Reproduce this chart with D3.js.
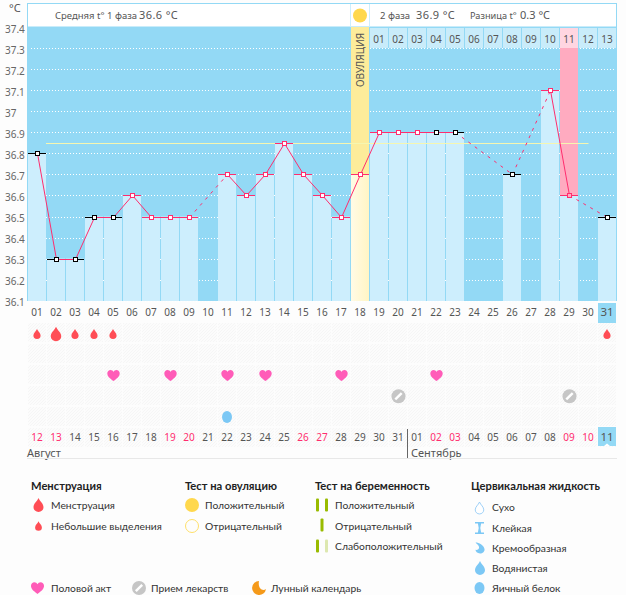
<!DOCTYPE html>
<html>
<head>
<meta charset="utf-8">
<style>
  html, body { margin: 0; padding: 0; background: #fdfdfd; }
  svg { display: block; }
  .chart-text { font-family: "Noto Sans", sans-serif; fill: #555; }
  .legend-text { font-family: Lato, sans-serif; font-size: 10.3px; fill: #333; }
  .legend-head { font-family: Lato, sans-serif; font-size: 11.2px; font-weight: 700; fill: #222; }
</style>
</head>
<body>
<div id="chart"></div>
<script src="https://cdnjs.cloudflare.com/ajax/libs/d3/7.8.5/d3.min.js"></script>
<script>
// values
var cycleDays = d3.range(1, 32);
var temps = [36.8, 36.3, 36.3, 36.5, 36.5, 36.6, 36.5, 36.5, 36.5, null,
             36.7, 36.6, 36.7, 36.85, 36.7, 36.6, 36.5, 36.7, 36.9, 36.9,
             36.9, 36.9, 36.9, null, null, 36.7, null, 37.1, 36.6, null, 36.5];
var blackDays = [1, 2, 3, 4, 5, 22, 23, 26, 31];
var tempTicks = [37.4, 37.3, 37.2, 37.1, 37, 36.9, 36.8, 36.7, 36.6, 36.5, 36.4, 36.3, 36.2, 36.1];
var coverLine = 36.85;
var ovulationDay = 18;
var pinkDay = 29;
var phaseLabels = ["01", "02", "03", "04", "05", "06", "07", "08", "09", "10", "11", "12", "13"];
var phaseStart = 19;
var pinkPhaseLabel = "11";
var dayLabels = ["01", "02", "03", "04", "05", "06", "07", "08", "09", "10", "11", "12", "13", "14", "15", "16",
                 "17", "18", "19", "20", "21", "22", "23", "24", "25", "26", "27", "28", "29", "30", "31"];
var dateLabels = ["12", "13", "14", "15", "16", "17", "18", "19", "20", "21", "22", "23", "24", "25", "26", "27",
                  "28", "29", "30", "31", "01", "02", "03", "04", "05", "06", "07", "08", "09", "10", "11"];
var weekendDays = [1, 2, 8, 9, 15, 16, 22, 23, 29, 30];
var smallDrops = [1, 3, 4, 5, 31];
var bigDrops = [2];
var heartDays = [5, 8, 11, 13, 17, 22];
var pillDays = [20, 29];
var eggDays = [11];
var rowNames = ["drops", "tests", "hearts", "pills", "fluid"];

var width = 626;
var height = 595;
var pink = "#ff2d6e";
var blue = "#93d9f5";
var pale = "#cdeefd";

var x = d3.scaleBand().domain(cycleDays).range([27, 616]);
var y = d3.scaleLinear().domain([36.1, 37.4]).range([300.6, 27.3]);
var rowY = d3.scalePoint().domain(rowNames).range([334, 417]);
var cx = function(d) { return x(d) + 10.5; };
var isBlack = function(d) { return blackDays.indexOf(d) >= 0; };

var svg = d3.select("#chart").append("svg")
    .attr("width", width)
    .attr("height", height);

var defs = svg.append("defs");
var hatch = defs.append("pattern").attr("id", "hatch")
    .attr("width", 3).attr("height", 3)
    .attr("patternUnits", "userSpaceOnUse");
hatch.append("rect").attr("width", 3).attr("height", 3).attr("fill", "#fcfcfc");
hatch.append("path").attr("d", "M0,3L3,0").attr("stroke", "#f6f6f6").attr("stroke-width", 1);
var ovGrad = defs.append("linearGradient").attr("id", "ovgrad");
ovGrad.append("stop").attr("offset", "0%").attr("stop-color", "#fffbe6");
ovGrad.append("stop").attr("offset", "100%").attr("stop-color", "#fff5c4");

// icons, centred on 0,0
var dropPath = "M0,-7C1.5,-3.5 5,-1.5 5,2.2A5,4.8 0 0 1 -5,2.2C-5,-1.5 -1.5,-3.5 0,-7Z";
var heartPath = "M0,5.6C-2,3.8 -6.2,1.6 -6.2,-2C-6.2,-4.2 -4.6,-5.4 -3,-5.4C-1.6,-5.4 -0.6,-4.6 0,-3.6C0.6,-4.6 1.6,-5.4 3,-5.4C4.6,-5.4 6.2,-4.2 6.2,-2C6.2,1.6 2,3.8 0,5.6Z";
var moonPath = "M0,-7A7,7 0 1 0 7,1C4,3.5 -1.5,1 0,-7Z";
var hourPath = "M-4.5,-6H4.5V-4.6H1.6L0.8,0L1.6,4.6H4.5V6H-4.5V4.6H-1.6L-0.8,0L-1.6,-4.6H-4.5Z";
var creamPath = "M-5,-6C-1,-6 4,-3 5,1C5.5,4 3,6 0,6C-3,6 -5,4 -5,2C-3,2.4 -1,1.4 -1,-0.5C-1,-2.8 -3.5,-4 -5,-6Z";

function drawPill(g, px, py) {
  g.append("circle").attr("cx", px).attr("cy", py).attr("r", 7).attr("fill", "#c6c6c6");
  g.append("line").attr("x1", px - 3.2).attr("y1", py + 3.2)
      .attr("x2", px + 3.2).attr("y2", py - 3.2)
      .attr("stroke", "#fff").attr("stroke-width", 2.4);
}
function drawIcon(g, path, px, py, k, fill) {
  return g.append("path").attr("d", path)
      .attr("transform", "translate(" + px + "," + py + ") scale(" + k + ")")
      .attr("fill", fill);
}

// plot background and white dotted grid
svg.append("rect").attr("x", 27).attr("y", 27).attr("width", 590).attr("height", 274).attr("fill", blue);

svg.append("g").selectAll("line")
    .data(tempTicks.slice(1))
  .enter().append("line")
    .attr("x1", 31).attr("x2", 616)
    .attr("y1", function(d) { return Math.round(y(d)) + 0.5; })
    .attr("y2", function(d) { return Math.round(y(d)) + 0.5; })
    .attr("stroke", "#fff")
    .attr("stroke-dasharray", "1 2");

// header strip
svg.append("rect").attr("x", 27.5).attr("y", 3.5).attr("width", 589).attr("height", 23.5)
    .attr("fill", "#fff").attr("stroke", blue);
svg.append("g").selectAll("line")
    .data([350.5, 369.5])
  .enter().append("line")
    .attr("x1", function(d) { return d; }).attr("x2", function(d) { return d; })
    .attr("y1", 4).attr("y2", 27)
    .attr("stroke", "#cdeefd");

// ovulation and pink columns, full height
svg.append("rect").attr("x", x(ovulationDay) + 1).attr("y", 27).attr("width", 18).attr("height", 274).attr("fill", "#fdec9a");
svg.append("rect").attr("x", x(pinkDay) + 1).attr("y", 48).attr("width", 18).attr("height", 253).attr("fill", "#ffabc0");

// bars
svg.append("g").selectAll("rect")
    .data(cycleDays.filter(function(d) { return temps[d - 1] !== null; }))
  .enter().append("rect")
    .attr("x", function(d) { return x(d) + 1; })
    .attr("y", function(d) { return y(temps[d - 1]); })
    .attr("width", 18)
    .attr("height", function(d) { return 301 - y(temps[d - 1]); })
    .attr("fill", function(d) { return d === ovulationDay ? "url(#ovgrad)" : pale; });

// second phase day cells
svg.append("g").selectAll("rect")
    .data(phaseLabels)
  .enter().append("rect")
    .attr("x", function(d, i) { return x(phaseStart + i) + 1; })
    .attr("y", 28)
    .attr("width", 18)
    .attr("height", 20)
    .attr("fill", function(d) { return d === pinkPhaseLabel ? "#ffd6e1" : "#c9ecfa"; });
svg.append("g").attr("class", "chart-text").style("font-size", "10px").selectAll("text")
    .data(phaseLabels)
  .enter().append("text")
    .attr("x", function(d, i) { return x(phaseStart + i) + 10; })
    .attr("y", 43)
    .attr("text-anchor", "middle")
    .text(function(d) { return d; });

svg.append("text").attr("class", "chart-text")
    .attr("transform", "translate(364," + 87 + ") rotate(-90)")
    .style("font-size", "10px")
    .text("ОВУЛЯЦИЯ");

// cover line
svg.append("line")
    .attr("x1", x(2)).attr("x2", cx(30))
    .attr("y1", Math.round(y(coverLine)) + 0.5).attr("y2", Math.round(y(coverLine)) + 0.5)
    .attr("stroke", "#f6f6b0");

// day ticks
var pointDays = cycleDays.filter(function(d) { return temps[d - 1] !== null; });
svg.append("g").selectAll("line")
    .data(pointDays)
  .enter().append("line")
    .attr("x1", function(d) { return x(d) + 1; })
    .attr("x2", function(d) { return x(d) + 19; })
    .attr("y1", function(d) { return Math.round(y(temps[d - 1])) + 0.5; })
    .attr("y2", function(d) { return Math.round(y(temps[d - 1])) + 0.5; })
    .attr("stroke", function(d) { return isBlack(d) ? "#000" : pink; });

// temperature line, dashed over missing days
var segments = d3.pairs(pointDays);
svg.append("g").selectAll("line")
    .data(segments)
  .enter().append("line")
    .attr("x1", function(d) { return cx(d[0]); })
    .attr("y1", function(d) { return Math.round(y(temps[d[0] - 1])) + 0.5; })
    .attr("x2", function(d) { return cx(d[1]); })
    .attr("y2", function(d) { return Math.round(y(temps[d[1] - 1])) + 0.5; })
    .attr("stroke", pink)
    .attr("stroke-width", 1)
    .attr("stroke-dasharray", function(d) { return d[1] - d[0] > 1 ? "3 5" : null; });

svg.append("g").selectAll("rect")
    .data(pointDays)
  .enter().append("rect")
    .attr("x", function(d) { return cx(d) - 2; })
    .attr("y", function(d) { return Math.round(y(temps[d - 1])) - 1.5; })
    .attr("width", 4)
    .attr("height", 4)
    .attr("fill", function(d) { return d === pinkDay ? "#ffabc0" : "#fff"; })
    .attr("stroke", function(d) { return isBlack(d) ? "#000" : pink; });

// temperature axis
var yAxis = svg.append("g").attr("class", "chart-text")
    .attr("transform", "translate(5,2)")
    .call(d3.axisLeft(y).tickValues(tempTicks).tickSize(0).tickFormat(function(d) { return String(d); }));
yAxis.select(".domain").remove();
yAxis.selectAll("text")
    .attr("x", 0)
    .attr("text-anchor", "start")
    .style("font-family", "'Noto Sans', sans-serif")
    .style("font-size", "10px")
    .style("fill", "#666");
svg.append("text").attr("class", "chart-text").attr("x", 9).attr("y", 12).style("font-size", "11px").text("°C");

// header texts
var head = svg.append("g").attr("class", "chart-text");
head.append("text").attr("x", 55).attr("y", 19).style("font-size", "9.5px").text("Средняя t° 1 фаза");
head.append("text").attr("x", 139).attr("y", 19).style("font-size", "11px").style("letter-spacing", "0.4px").text("36.6 °C");
head.append("text").attr("x", 380).attr("y", 19).style("font-size", "9.5px").text("2 фаза");
head.append("text").attr("x", 416).attr("y", 19).style("font-size", "11px").style("letter-spacing", "0.4px").text("36.9 °C");
head.append("text").attr("x", 470).attr("y", 19).style("font-size", "9.2px").text("Разница t°");
head.append("text").attr("x", 520).attr("y", 19).style("font-size", "11px").text("0.3 °C");
svg.append("circle").attr("cx", 360).attr("cy", 15.5).attr("r", 7).attr("fill", "#ffd84d");

// hatched observation rows
var cells = [];
d3.range(6).forEach(function(r) {
  cycleDays.forEach(function(d) { cells.push({row: r, day: d}); });
});
svg.append("g").selectAll("rect")
    .data(cells)
  .enter().append("rect")
    .attr("x", function(d) { return x(d.day) + 1; })
    .attr("y", function(d) { return 323 + d.row * 21; })
    .attr("width", 18)
    .attr("height", 19)
    .attr("fill", "url(#hatch)");

// highlighted current day
svg.append("rect").attr("x", x(31) + 1).attr("y", 303).attr("width", 18).attr("height", 20).attr("fill", blue);
svg.append("rect").attr("x", x(31) + 1).attr("y", 427).attr("width", 18).attr("height", 19).attr("fill", blue);
svg.append("path").attr("d", "M607,443.5l3,2.5h-6z").attr("fill", "#fff");

// day and date labels
svg.append("g").attr("class", "chart-text").style("font-size", "10px").selectAll("text")
    .data(dayLabels)
  .enter().append("text")
    .attr("x", function(d, i) { return x(i + 1) + 10; })
    .attr("y", 316)
    .attr("text-anchor", "middle")
    .style("font-size", function(d, i) { return i === 30 ? "11.5px" : null; })
    .text(function(d) { return d; });
svg.append("g").attr("class", "chart-text").style("font-size", "10px").selectAll("text")
    .data(dateLabels)
  .enter().append("text")
    .attr("x", function(d, i) { return x(i + 1) + 10; })
    .attr("y", 441)
    .attr("text-anchor", "middle")
    .style("fill", function(d, i) { return weekendDays.indexOf(i + 1) >= 0 ? pink : null; })
    .style("font-size", function(d, i) { return i === 30 ? "11.5px" : null; })
    .text(function(d) { return d; });

// markers in the rows
var marks = svg.append("g");
smallDrops.forEach(function(d) { drawIcon(marks, dropPath, cx(d) - 0.5, rowY("drops"), 0.72, "#ff4d55"); });
bigDrops.forEach(function(d) { drawIcon(marks, dropPath, cx(d) - 0.5, rowY("drops"), 1.05, "#ff4d55"); });
heartDays.forEach(function(d) { drawIcon(marks, heartPath, cx(d), rowY("hearts"), 1, "#ff5cb8"); });
pillDays.forEach(function(d) { drawPill(marks, cx(d), rowY("pills")); });
eggDays.forEach(function(d) {
  marks.append("ellipse").attr("cx", cx(d) - 0.5).attr("cy", rowY("fluid")).attr("rx", 5).attr("ry", 6).attr("fill", "#7cc8f5");
});

// months
svg.append("text").attr("class", "chart-text").attr("x", 27).attr("y", 457).style("font-size", "11px").text("Август");
svg.append("text").attr("class", "chart-text").attr("x", 411).attr("y", 457).style("font-size", "11px").text("Сентябрь");
svg.append("line").attr("x1", 407.5).attr("x2", 407.5).attr("y1", 429).attr("y2", 458).attr("stroke", "#666");
svg.append("line").attr("x1", 27).attr("x2", 617).attr("y1", 458.5).attr("y2", 458.5).attr("stroke", "#e8e8e8");

// legend
var legend = svg.append("g");
function head_(label, px) {
  legend.append("text").attr("class", "legend-head").attr("x", px).attr("y", 490).text(label);
}
function item(label, px, py) {
  legend.append("text").attr("class", "legend-text").attr("x", px).attr("y", py + 4).text(label);
}
head_("Менструация", 31);
head_("Тест на овуляцию", 185);
head_("Тест на беременность", 315);
head_("Цервикальная жидкость", 471);

drawIcon(legend, dropPath, 38.5, 505, 1, "#ff4d55");
item("Менструация", 51, 505);
drawIcon(legend, dropPath, 38.5, 526, 0.68, "#ff4d55");
item("Небольшие выделения", 51, 526);

legend.append("circle").attr("cx", 192).attr("cy", 505).attr("r", 7).attr("fill", "#ffd84d");
item("Положительный", 205, 505);
legend.append("circle").attr("cx", 192).attr("cy", 526).attr("r", 6.5).attr("fill", "none").attr("stroke", "#ffe06a");
item("Отрицательный", 205, 526);

function testBar(px, py, fill) {
  legend.append("rect").attr("x", px - 1.5).attr("y", py - 6.5).attr("width", 3).attr("height", 13).attr("rx", 1).attr("fill", fill);
}
testBar(317.5, 505, "#99bb00");
testBar(326.5, 505, "#99bb00");
item("Положительный", 335, 505);
testBar(322, 525, "#99bb00");
item("Отрицательный", 335, 526);
testBar(317.5, 546, "#99bb00");
testBar(326.5, 546, "#dde8b0");
item("Слабоположительный", 335, 546);

drawIcon(legend, dropPath, 479.5, 508, 0.85, "#fff").attr("stroke", "#8cc8f5").attr("stroke-width", 1);
item("Сухо", 492, 507);
drawIcon(legend, hourPath, 479.5, 528, 1, "#7cc8f5");
item("Клейкая", 492, 528);
drawIcon(legend, creamPath, 480, 548, 0.9, "#7cc8f5");
item("Кремообразная", 492, 548);
drawIcon(legend, dropPath, 480, 568, 1, "#7cc8f5");
item("Водянистая", 492, 568);
legend.append("ellipse").attr("cx", 479.5).attr("cy", 588).attr("rx", 5).attr("ry", 6).attr("fill", "#7cc8f5");
item("Яичный белок", 492, 588);

drawIcon(legend, heartPath, 37.5, 588, 1.05, "#ff5cb8");
item("Половой акт", 51, 588);
drawPill(legend, 139, 588);
item("Прием лекарств", 151, 588);
drawIcon(legend, moonPath, 259, 588, 1, "#f59a1a");
item("Лунный календарь", 271, 588);
</script>
</body>
</html>
